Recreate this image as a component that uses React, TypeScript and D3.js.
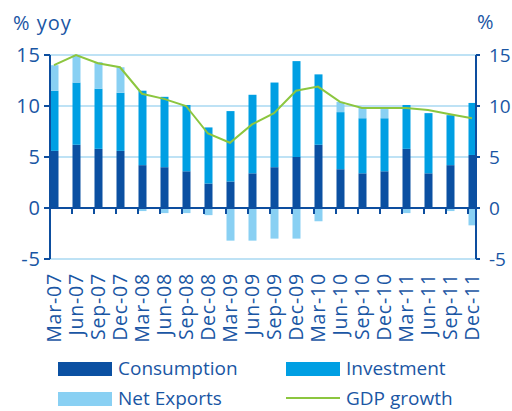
import React from 'react';
import * as d3 from 'd3';

const categories = [
  'Mar-07', 'Jun-07', 'Sep-07', 'Dec-07', 'Mar-08', 'Jun-08', 'Sep-08', 'Dec-08',
  'Mar-09', 'Jun-09', 'Sep-09', 'Dec-09', 'Mar-10', 'Jun-10', 'Sep-10', 'Dec-10',
  'Mar-11', 'Jun-11', 'Sep-11', 'Dec-11'
];
const consumption = [5.6, 6.2, 5.8, 5.6, 4.2, 4.0, 3.6, 2.4, 2.6, 3.4, 4.0, 5.0, 6.2, 3.8, 3.4, 3.6, 5.8, 3.4, 4.2, 5.2];
const investment = [5.9, 6.1, 5.9, 5.7, 7.3, 6.9, 6.5, 5.5, 6.9, 7.7, 8.3, 9.4, 6.9, 5.6, 5.4, 5.2, 4.3, 5.9, 4.9, 5.1];
const netExports = [2.5, 2.7, 2.6, 2.5, -0.3, -0.5, -0.5, -0.7, -3.2, -3.2, -3.0, -3.0, -1.3, 1.0, 1.0, 0.9, -0.5, -0.1, -0.3, -1.7];
const gdpGrowth = [14.0, 15.0, 14.2, 13.8, 11.2, 10.7, 10.0, 7.3, 6.4, 8.2, 9.3, 11.5, 11.9, 10.4, 9.8, 9.8, 9.8, 9.6, 9.2, 8.8];
const yTicks = [-5, 0, 5, 10, 15];

const seriesKeys = ['consumption', 'investment', 'netExports'] as const;
const seriesColors: Record<string, string> = {
  consumption: '#0b50a2',
  investment: '#009fe3',
  netExports: '#89d0f3'
};
const gdpColor = '#8cc63f';
const textColor = '#1a56a4';
const axisColor = '#0d4e9f';
const gridColor = '#a9d9f2';
const font = '"Open Sans", "DejaVu Sans", sans-serif';

const W = 512;
const H = 411;
const left = 50;
const right = 476;
const barW = 8;

export default function App() {
  const x = d3.scalePoint<string>().domain(categories).range([left, 468]);
  const y = d3.scaleLinear().domain([-5, 15]).range([259, 55]);

  const rows = categories.map((c, i) => ({
    cat: c,
    consumption: consumption[i],
    investment: investment[i],
    netExports: netExports[i]
  }));
  const stacked = d3.stack<any>()
    .keys(seriesKeys as unknown as string[])
    .offset(d3.stackOffsetDiverging)(rows);

  const line = d3.line<number>()
    .x((_, i) => (x(categories[i]) as number) + barW / 2)
    .y((d) => y(d));

  return (
    <svg width={W} height={H} style={{ position: 'absolute', left: 0, top: 0, background: '#fff' }} fontFamily={font}>
      {/* gridlines */}
      {yTicks.filter((t) => t !== 0).map((t) => (
        <line key={t} x1={left} x2={right} y1={y(t)} y2={y(t)} stroke={gridColor} strokeWidth={1.5} />
      ))}

      {/* bars */}
      {stacked.map((s) => (
        <g key={s.key} fill={seriesColors[s.key]}>
          {s.map((d, i) => (
            <rect
              key={i}
              x={(x(categories[i]) as number) + 0.5}
              y={y(Math.max(d[0], d[1]))}
              width={barW}
              height={Math.abs(y(d[0]) - y(d[1]))}
            />
          ))}
        </g>
      ))}

      {/* zero line + category ticks */}
      <line x1={left} x2={right} y1={y(0)} y2={y(0)} stroke={axisColor} strokeWidth={2} />
      {categories.map((c) => (
        <line key={c} x1={x(c)} x2={x(c)} y1={y(0)} y2={y(0) + 6} stroke={axisColor} strokeWidth={2} />
      ))}

      {/* GDP line */}
      <path d={line(gdpGrowth) || ''} fill="none" stroke={gdpColor} strokeWidth={2} />

      {/* left axis */}
      <line x1={left} x2={left} y1={y(15)} y2={y(-5)} stroke={axisColor} strokeWidth={2} />
      {yTicks.map((t) => (
        <g key={t}>
          <line x1={left - 6} x2={left} y1={y(t)} y2={y(t)} stroke={axisColor} strokeWidth={2} />
          <text x={41} y={y(t)} dy="0.35em" textAnchor="end" fontSize={20} fill={textColor} letterSpacing={1}>{t}</text>
        </g>
      ))}

      {/* right axis */}
      <line x1={right} x2={right} y1={y(15)} y2={y(-5)} stroke={axisColor} strokeWidth={2} />
      {yTicks.map((t) => (
        <g key={t}>
          <line x1={right} x2={right + 4} y1={y(t)} y2={y(t)} stroke={axisColor} strokeWidth={2} />
          <text x={489} y={y(t)} dy="0.35em" textAnchor="start" fontSize={19} fill={textColor}>{t}</text>
        </g>
      ))}

      <text x={13} y={30} fontSize={20} fill={textColor} letterSpacing={1}>% yoy</text>
      <text x={477} y={29} fontSize={20} fill={textColor}>%</text>

      {/* category labels */}
      {categories.map((c) => {
        const cx = (x(c) as number) + barW / 2;
        return (
          <text
            key={c}
            transform={`translate(${cx},273) rotate(-90)`}
            dy="0.35em"
            textAnchor="end"
            fontSize={19.5}
            fill={textColor}
            letterSpacing={0.8}
          >
            {c}
          </text>
        );
      })}

      {/* legend */}
      <rect x={58} y={362} width={54} height={14} fill={seriesColors.consumption} />
      <text x={118} y={375} fontSize={19} fill={textColor}>Consumption</text>
      <rect x={286} y={362} width={54} height={14} fill={seriesColors.investment} />
      <text x={346} y={375} fontSize={19} fill={textColor}>Investment</text>
      <rect x={58} y={392} width={54} height={14} fill={seriesColors.netExports} />
      <text x={118} y={405} fontSize={19} fill={textColor}>Net Exports</text>
      <line x1={286} x2={340} y1={398} y2={398} stroke={gdpColor} strokeWidth={2} />
      <text x={346} y={405} fontSize={19} fill={textColor}>GDP growth</text>
    </svg>
  );
}
